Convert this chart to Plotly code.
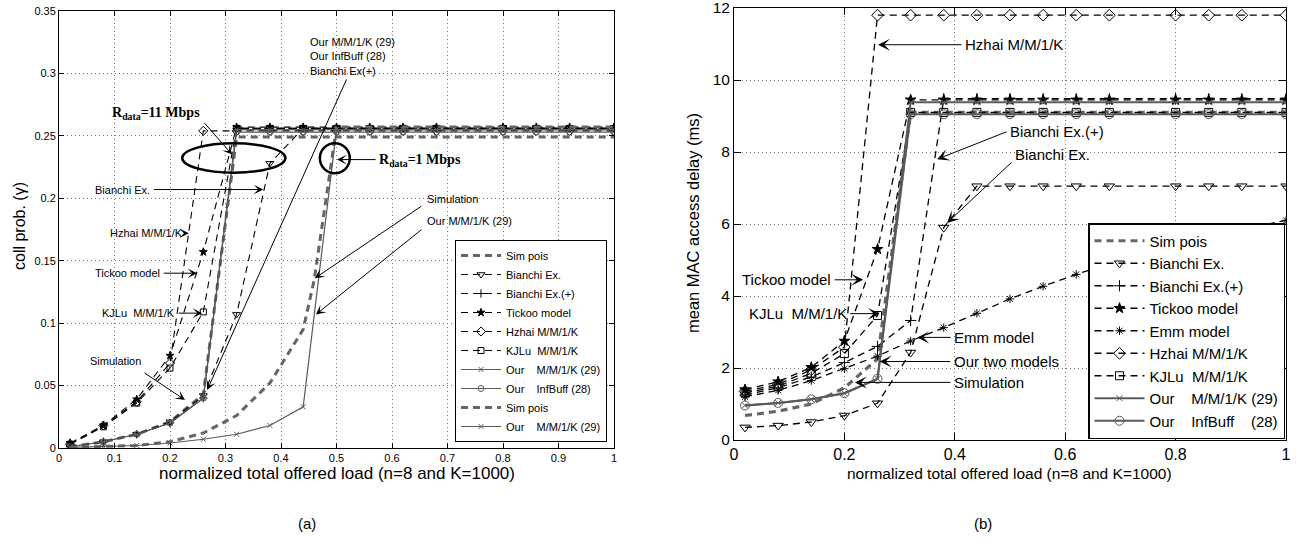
import plotly.graph_objects as go

# ---------------- data ----------------
X = [0.02, 0.08, 0.14, 0.20, 0.26, 0.32, 0.38, 0.44, 0.50, 0.56, 0.62, 0.68, 0.80, 0.86, 0.92, 1.00]
X_sim1 = [0.02, 0.08, 0.14, 0.20, 0.26, 0.32, 0.38, 0.44, 0.46, 0.50, 0.56, 0.62, 0.68, 0.80, 0.86, 0.92, 1.00]

# (a) collision probability, R_data = 11 Mbps
a_sim11 = [0.001, 0.005, 0.011, 0.021, 0.043, 0.249, 0.249, 0.249, 0.249, 0.249, 0.249, 0.249, 0.249, 0.249, 0.249, 0.249]
a_bianchi = [0.001, 0.005, 0.011, 0.021, 0.042, 0.107, 0.228, 0.256, 0.256, 0.256, 0.256, 0.256, 0.256, 0.256, 0.256, 0.256]
a_bianchip = [0.001, 0.005, 0.011, 0.020, 0.040, 0.256, 0.256, 0.256, 0.256, 0.256, 0.256, 0.256, 0.256, 0.256, 0.256, 0.256]
a_tickoo = [0.004, 0.018, 0.039, 0.074, 0.157, 0.257, 0.257, 0.257, 0.257, 0.257, 0.257, 0.257, 0.257, 0.257, 0.257, 0.257]
a_hzhai = [0.003, 0.018, 0.037, 0.068, 0.254, 0.254, 0.254, 0.254, 0.254, 0.254, 0.254, 0.254, 0.254, 0.254, 0.254, 0.254]
a_kjlu = [0.003, 0.017, 0.036, 0.064, 0.109, 0.256, 0.256, 0.256, 0.256, 0.256, 0.256, 0.256, 0.256, 0.256, 0.256, 0.256]
a_our29 = [0.001, 0.005, 0.011, 0.020, 0.040, 0.255, 0.255, 0.255, 0.255, 0.255, 0.255, 0.255, 0.255, 0.255, 0.255, 0.255]
a_inf28 = [0.001, 0.005, 0.011, 0.020, 0.040, 0.253, 0.253, 0.253, 0.253, 0.253, 0.253, 0.253, 0.253, 0.253, 0.253, 0.253]
# (a) R_data = 1 Mbps
a_sim1 = [0.0005, 0.001, 0.002, 0.005, 0.012, 0.026, 0.052, 0.095, 0.135, 0.257, 0.257, 0.257, 0.257, 0.257, 0.257, 0.257, 0.257]
a_our29_1 = [0.0005, 0.001, 0.002, 0.004, 0.007, 0.011, 0.018, 0.033, 0.255, 0.255, 0.255, 0.255, 0.255, 0.255, 0.255, 0.255]

# (b) mean MAC access delay (ms)
b_sim = [0.68, 0.80, 1.00, 1.45, 2.25, 9.10, 9.10, 9.10, 9.10, 9.10, 9.10, 9.10, 9.10, 9.10, 9.10, 9.10]
b_bianchi = [0.35, 0.40, 0.50, 0.68, 1.02, 2.43, 5.90, 7.05, 7.05, 7.05, 7.05, 7.05, 7.05, 7.05, 7.05, 7.05]
b_bianchip = [1.25, 1.45, 1.75, 2.15, 2.60, 3.32, 9.48, 9.48, 9.48, 9.48, 9.48, 9.48, 9.48, 9.48, 9.48, 9.48]
b_tickoo = [1.40, 1.62, 2.02, 2.75, 5.30, 9.45, 9.45, 9.45, 9.45, 9.45, 9.45, 9.45, 9.45, 9.45, 9.45, 9.45]
b_emm = [1.20, 1.38, 1.65, 1.98, 2.33, 2.75, 3.12, 3.52, 3.92, 4.27, 4.60, 4.90, 5.40, 5.65, 5.85, 6.10]
b_hzhai = [1.35, 1.55, 1.95, 2.58, 11.80, 11.80, 11.80, 11.80, 11.80, 11.80, 11.80, 11.80, 11.80, 11.80, 11.80, 11.80]
b_kjlu = [1.30, 1.50, 1.85, 2.40, 3.46, 9.10, 9.10, 9.10, 9.10, 9.10, 9.10, 9.10, 9.10, 9.10, 9.10, 9.10]
b_our29 = [0.96, 1.03, 1.13, 1.30, 1.70, 9.38, 9.38, 9.38, 9.38, 9.38, 9.38, 9.38, 9.38, 9.38, 9.38, 9.38]
b_inf28 = [0.96, 1.03, 1.13, 1.30, 1.70, 9.05, 9.05, 9.05, 9.05, 9.05, 9.05, 9.05, 9.05, 9.05, 9.05, 9.05]

xticks_a = [0, 0.1, 0.2, 0.3, 0.4, 0.5, 0.6, 0.7, 0.8, 0.9, 1]
yticks_a = [0, 0.05, 0.1, 0.15, 0.2, 0.25, 0.3, 0.35]
xticks_b = [0, 0.2, 0.4, 0.6, 0.8, 1]
yticks_b = [0, 2, 4, 6, 8, 10, 12]

FONT = "Liberation Sans"
BLACK = "#000000"
GRAY = "#5a5a5a"
SIMGRAY = "#666666"
DASH = "7px,5px"

W, H = 1305, 539
A_DOM_X = [59 / W, 614 / W]
A_DOM_Y = [1 - 448 / H, 1 - 11 / H]
B_DOM_X = [734 / W, 1286 / W]
B_DOM_Y = [1 - 440 / H, 1 - 8 / H]

fig = go.Figure()


def add(x, y, name, xa, ya, legend, color, width, dash, symbol=None, msize=6, mline=1):
    mode = "lines+markers" if symbol else "lines"
    kw = dict(x=x, y=y, name=name, mode=mode, xaxis=xa, yaxis=ya, legend=legend,
              line=dict(color=color, width=width, dash=dash))
    if symbol:
        kw["marker"] = dict(symbol=symbol, size=msize, color=color,
                            line=dict(color=color, width=mline))
    fig.add_trace(go.Scatter(**kw))


# ---- (a) ----
add(X, a_sim11, "Sim pois", "x", "y", "legend", SIMGRAY, 3, DASH)
add(X, a_bianchi, "Bianchi Ex.", "x", "y", "legend", BLACK, 1.1, DASH, "triangle-down-open", 7)
add(X, a_bianchip, "Bianchi Ex.(+)", "x", "y", "legend", BLACK, 1.1, DASH, "cross-thin-open", 6)
add(X, a_tickoo, "Tickoo model", "x", "y", "legend", BLACK, 1.1, DASH, "star", 6)
add(X, a_hzhai, "Hzhai M/M/1/K", "x", "y", "legend", BLACK, 1.1, DASH, "diamond-open", 7)
add(X, a_kjlu, "KJLu  M/M/1/K", "x", "y", "legend", BLACK, 1.1, DASH, "square-open", 6)
add(X, a_our29, "Our    M/M/1/K (29)", "x", "y", "legend", GRAY, 1.2, "solid", "x-thin-open", 5)
add(X, a_inf28, "Our    InfBuff (28)", "x", "y", "legend", GRAY, 1.2, "solid", "circle-open", 6)
add(X_sim1, a_sim1, "Sim pois", "x", "y", "legend", SIMGRAY, 3, DASH)
add(X, a_our29_1, "Our    M/M/1/K (29)", "x", "y", "legend", GRAY, 1.2, "solid", "x-thin-open", 5)

# ---- (b) ----
add(X, b_sim, "Sim pois", "x2", "y2", "legend2", SIMGRAY, 3.2, DASH)
add(X, b_bianchi, "Bianchi Ex.", "x2", "y2", "legend2", BLACK, 1.3, DASH, "triangle-down-open", 9)
add(X, b_bianchip, "Bianchi Ex.(+)", "x2", "y2", "legend2", BLACK, 1.3, DASH, "cross-thin-open", 8)
add(X, b_tickoo, "Tickoo model", "x2", "y2", "legend2", BLACK, 1.3, DASH, "star", 8)
add(X, b_emm, "Emm model", "x2", "y2", "legend2", BLACK, 1.3, DASH, "asterisk-open", 7)
add(X, b_hzhai, "Hzhai M/M/1/K", "x2", "y2", "legend2", BLACK, 1.3, DASH, "diamond-open", 9)
add(X, b_kjlu, "KJLu  M/M/1/K", "x2", "y2", "legend2", BLACK, 1.3, DASH, "square-open", 8)
add(X, b_our29, "Our    M/M/1/K (29)", "x2", "y2", "legend2", GRAY, 2, "solid", "x-thin-open", 6)
add(X, b_inf28, "Our    InfBuff    (28)", "x2", "y2", "legend2", GRAY, 2, "solid", "circle-open", 9)

axis_common = dict(showline=True, linecolor=BLACK, linewidth=1, mirror="ticks", ticks="inside",
                   tickcolor=BLACK, showgrid=True, gridcolor="#777777", griddash="1px,3px", gridwidth=1,
                   zeroline=False, automargin=False, ticklabeloverflow="allow")

fig.update_layout(
    width=W, height=H, margin=dict(l=0, r=0, t=0, b=0, autoexpand=False),
    paper_bgcolor="white", plot_bgcolor="white",
    font=dict(family=FONT, color=BLACK),
    xaxis=dict(domain=A_DOM_X, anchor="y", range=[0, 1], tickvals=xticks_a, ticklen=5,
               tickfont=dict(size=11), **axis_common),
    yaxis=dict(domain=A_DOM_Y, anchor="x", range=[0, 0.35], tickvals=yticks_a, ticklen=5,
               tickfont=dict(size=11), **axis_common),
    xaxis2=dict(domain=B_DOM_X, anchor="y2", range=[0, 1], tickvals=xticks_b, ticklen=7,
                tickfont=dict(size=16), **axis_common),
    yaxis2=dict(domain=B_DOM_Y, anchor="x2", range=[0, 12], tickvals=yticks_b, ticklen=7,
                tickfont=dict(size=15.5), **axis_common),
    legend=dict(x=607 / W, xanchor="right", y=1 - 442 / H, yanchor="bottom",
                bgcolor="white", bordercolor=BLACK, borderwidth=1,
                font=dict(size=11, family=FONT), itemwidth=40, tracegroupgap=0),
    legend2=dict(x=1285 / W, xanchor="right", y=1 - 439 / H, yanchor="bottom",
                 bgcolor="white", bordercolor=BLACK, borderwidth=1.5,
                 font=dict(size=15, family=FONT), itemwidth=50, tracegroupgap=0),
    showlegend=True,
)

# ellipse and circle (a)
fig.add_shape(type="circle", xref="x", yref="y", x0=0.222, x1=0.408, y0=0.2205, y1=0.2440,
              line=dict(color=BLACK, width=2.5))
fig.add_shape(type="circle", xref="x", yref="y", x0=0.470, x1=0.524, y0=0.2200, y1=0.2440,
              line=dict(color=BLACK, width=2.5))

anns = []


def arrow(x, y, ax, ay, xref, yref, size=1.6):
    anns.append(dict(x=x, y=y, ax=ax, ay=ay, xref=xref, yref=yref, text="", showarrow=True,
                     arrowhead=3, arrowsize=size, arrowwidth=1, arrowcolor=BLACK))


def label(x, y, text, xref, yref, size, anchor="left", family=FONT):
    anns.append(dict(x=x, y=y, xref=xref, yref=yref, text=text, showarrow=False,
                     xanchor=anchor, yanchor="middle", font=dict(size=size, family=family, color=BLACK)))


# (a) annotations
label(0.092, 0.268, "<b>R<sub>data</sub>=11 Mbps</b>", "x", "y", 14, "left", "Liberation Serif")
arrow(0.312, 0.235, -29, -33, "x", "y")
label(0.573, 0.230, "<b>R<sub>data</sub>=1 Mbps</b>", "x", "y", 14, "left", "Liberation Serif")
arrow(0.501, 0.231, 40, 0, "x", "y")
anns.append(dict(x=0.449, y=0.3135, xref="x", yref="y", text="Our M/M/1/K (29)<br>Our InfBuff (28)<br>Bianchi Ex(+)",
                 showarrow=False, xanchor="left", yanchor="middle", align="left",
                 font=dict(size=11, family=FONT, color=BLACK)))
arrow(0.267, 0.0465, 140, -312, "x", "y")
label(0.168, 0.207, "Bianchi Ex.", "x", "y", 11, "right")
arrow(0.368, 0.207, -111, 0, "x", "y")
label(0.227, 0.172, "Hzhai M/M/1/K", "x", "y", 11, "right")
arrow(0.234, 0.172, -6, 0, "x", "y")
label(0.186, 0.140, "Tickoo model", "x", "y", 11, "right")
arrow(0.249, 0.140, -35, 0, "x", "y")
label(0.213, 0.108, "KJLu  M/M/1/K", "x", "y", 11, "right")
arrow(0.258, 0.108, -25, 0, "x", "y")
label(0.151, 0.0697, "Simulation", "x", "y", 11, "right")
arrow(0.227, 0.0385, -42, -28, "x", "y")
label(0.659, 0.1995, "Simulation", "x", "y", 11, "left")
arrow(0.461, 0.136, 108, -73, "x", "y")
label(0.659, 0.182, "Our M/M/1/K (29)", "x", "y", 11, "left")
arrow(0.463, 0.107, 107, -86, "x", "y")

# (b) annotations
label(0.415, 10.98, "Hzhai M/M/1/K", "x2", "y2", 15, "left")
arrow(0.261, 10.98, 85, 0, "x2", "y2", 2)
label(0.496, 8.57, "Bianchi Ex.(+)", "x2", "y2", 15, "left")
arrow(0.368, 7.80, 71, -28, "x2", "y2", 2)
label(0.505, 7.93, "Bianchi Ex.", "x2", "y2", 15, "left")
arrow(0.386, 6.03, 66, -62, "x2", "y2", 2)
label(0.179, 4.45, "Tickoo model", "x2", "y2", 15, "right")
arrow(0.234, 4.45, -30, 0, "x2", "y2", 2)
label(0.208, 3.51, "KJLu  M/M/1/K", "x2", "y2", 15, "right")
arrow(0.264, 3.51, -31, 0, "x2", "y2", 2)
label(0.395, 2.85, "Emm model", "x2", "y2", 15, "left")
arrow(0.332, 2.85, 35, 0, "x2", "y2", 2)
label(0.395, 2.18, "Our two models", "x2", "y2", 15, "left")
arrow(0.264, 2.18, 72, 0, "x2", "y2", 2)
label(0.395, 1.60, "Simulation", "x2", "y2", 15, "left")
arrow(0.219, 1.60, 97, 0, "x2", "y2", 2)


def ptext(px, py, text, size, angle=0):
    anns.append(dict(x=px / W, y=1 - py / H, xref="paper", yref="paper", showarrow=False,
                     xanchor="center", yanchor="middle", textangle=angle,
                     text=text, font=dict(size=size, family=FONT, color=BLACK)))


# axis titles and panel labels
ptext(337, 473, "normalized total offered load (n=8 and K=1000)", 17)
ptext(19, 226, "coll prob. (γ)", 16, -90)
ptext(1009, 473, "normalized total offered load (n=8 and K=1000)", 15.5)
ptext(693, 223, "mean MAC access delay (ms)", 16.5, -90)
ptext(307, 523, "(a)", 15)
ptext(983, 523, "(b)", 15)

fig.update_layout(annotations=anns)

fig.write_html("out.html", config={"displayModeBar": False})
